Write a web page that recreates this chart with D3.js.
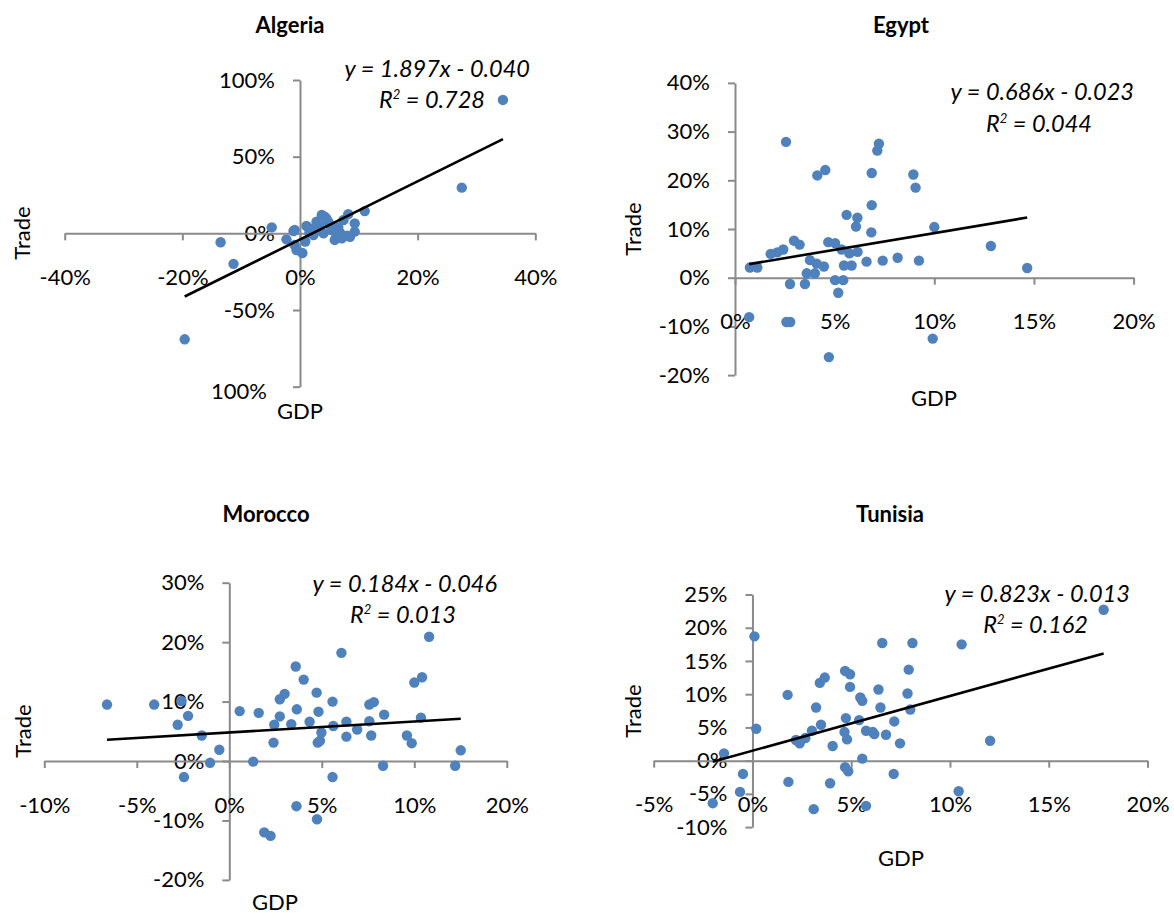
<!DOCTYPE html>
<html><head><meta charset="utf-8">
<script src="https://cdn.jsdelivr.net/npm/d3@7"></script>
<style>
body{margin:0;background:#fff;}
svg text{font-family:Lato,"Open Sans",sans-serif;}
</style></head><body>
<svg id="c" width="1174" height="916"></svg>
<script>
// ---------- DATA (values in percent) ----------
const countries = ["Algeria","Egypt","Morocco","Tunisia"];

const algeriaGDP   = [-19.6,-13.5,-11.3,-4.8,34.5,27.5,11.0,-2.3,-1.1,-0.9,-0.6,0.4,0.9,1.1,2.0,2.3,2.8,3.1,3.7,4.2,4.0,4.8,5.1,5.4,5.9,6.2,6.5,7.1,7.4,8.2,8.5,9.3,9.3,4.5,3.3,6.8,8.0,2.6,1.6,-0.9];
const algeriaTrade = [-69.1,-5.8,-19.9,3.9,87.0,29.8,14.5,-3.9,1.5,-7.6,-10.9,-12.8,-5.3,4.8,2.2,-1.1,7.6,2.2,12.0,10.9,0.0,7.6,5.4,2.2,-4.3,-1.1,3.9,-3.3,8.7,12.5,-2.2,1.1,6.5,9.5,5.0,0.5,-1.5,4.0,0.3,2.2];

const egyptGDP   = [2.56,7.22,7.14,4.13,4.53,6.86,8.95,9.06,6.86,5.60,6.14,6.07,10.0,6.84,2.96,3.24,4.68,5.02,5.35,2.42,2.12,1.79,5.74,6.15,0.75,1.12,3.76,4.10,4.46,4.01,3.60,5.47,5.85,6.60,7.41,8.16,9.23,2.76,3.51,5.02,5.43,5.18,12.84,14.66,9.92,4.71,0.71,2.58,2.77];
const egyptTrade = [27.9,27.5,26.1,21.0,22.1,21.5,21.2,18.5,14.9,12.9,12.3,10.5,10.4,9.3,7.6,6.8,7.3,7.1,5.8,5.8,5.2,4.9,5.0,5.3,2.1,2.1,3.6,2.9,2.3,0.9,0.9,2.5,2.5,3.3,3.5,4.1,3.5,-1.3,-1.3,-0.5,-0.5,-3.1,6.5,2.0,-12.5,-16.3,-8.1,-9.1,-9.1];

const moroccoGDP   = [-6.61,-4.06,-2.59,-2.23,-2.79,-1.49,-0.54,-1.04,-2.45,0.56,1.59,1.29,2.43,2.39,2.73,2.73,2.99,3.35,3.59,3.65,4.02,4.34,4.72,4.82,4.98,4.78,4.90,5.58,5.62,6.06,6.33,6.33,6.91,7.57,7.57,7.81,7.67,8.37,8.31,9.60,9.86,10.0,10.42,10.36,10.8,12.21,12.51,3.63,4.74,1.89,2.23,5.58];
const moroccoTrade = [9.5,9.5,10.1,7.6,6.1,4.3,1.9,-0.3,-2.7,8.4,8.1,-0.1,6.1,3.1,7.5,10.4,11.3,6.2,15.9,8.7,13.7,6.6,11.5,8.3,4.8,3.1,3.4,10.0,5.9,18.2,6.6,4.1,5.3,6.7,9.5,9.9,4.3,7.8,-0.8,4.3,3.0,13.2,14.1,7.3,20.9,-0.8,1.8,-7.6,-9.8,-12.0,-12.6,-2.7];

const tunisiaGDP   = [-1.44,0.10,0.19,-0.48,-0.63,-2.01,1.78,1.82,2.20,2.39,2.68,3.01,3.10,3.22,3.47,3.41,3.66,3.93,4.06,4.69,4.94,4.73,4.66,4.79,4.94,4.69,4.85,5.46,5.56,5.40,5.56,5.75,5.75,6.09,6.17,6.38,6.48,6.57,6.76,7.15,7.18,7.47,7.85,7.91,7.99,8.10,10.59,10.44,12.03,17.78];
const tunisiaTrade = [1.1,18.7,4.8,-2.0,-4.7,-6.4,9.9,-3.2,3.1,2.6,3.4,4.5,-7.3,8.0,5.4,11.7,12.5,-3.4,2.2,13.5,13.0,6.4,4.3,3.2,11.1,-1.0,-1.6,9.5,9.0,6.1,0.3,4.5,-6.8,4.3,4.0,10.7,8.0,17.7,3.9,-2.0,5.9,2.6,10.1,13.7,7.7,17.7,17.5,-4.6,3.0,22.7];

// trend lines as drawn (slope, intercept in %)
const trendSlope     = [1.897, 0.686, 0.184, 0.823];
const trendIntercept = [-4.0, 2.3, 4.8, 1.5];
const eqLabels = ["y = 1.897x - 0.040","y = 0.686x - 0.023","y = 0.184x - 0.046","y = 0.823x - 0.013"];
const r2Labels = ["0.728","0.044","0.013","0.162"];

// axis ticks
const algeriaXTicks = [-40,-20,0,20,40];
const algeriaXLabels = ["-40%","-20%","0%","20%","40%"];
const algeriaYTicks = [100,50,0,-50,-100];
const algeriaYLabels = ["100%","50%","0%","-50%","100%"];

const egyptXTicks = [0,5,10,15,20];
const egyptXLabels = ["0%","5%","10%","15%","20%"];
const egyptYTicks = [40,30,20,10,0,-10,-20];
const egyptYLabels = ["40%","30%","20%","10%","0%","-10%","-20%"];

const moroccoXTicks = [-10,-5,0,5,10,15];
const moroccoXLabels = ["-10%","-5%","0%","5%","10%","20%"];
const moroccoYTicks = [30,20,10,0,-10,-20];
const moroccoYLabels = ["30%","20%","10%","0%","-10%","-20%"];

const tunisiaXTicks = [-5,0,5,10,15,20];
const tunisiaXLabels = ["-5%","0%","5%","10%","15%","20%"];
const tunisiaYTicks = [25,20,15,10,5,0,-5,-10];
const tunisiaYLabels = ["25%","20%","15%","10%","5%","0%","-5%","-10%"];

// ---------- LAYOUT ----------
const panels = [
  {gdp:algeriaGDP, trade:algeriaTrade, xt:algeriaXTicks, xl:algeriaXLabels, yt:algeriaYTicks, yl:algeriaYLabels,
   xd:[-40,40], xr:[64.7,535.3], yd:[-100,100], yr:[386.7,80],
   title:[290,33], eq:[530,77], r2:[485,108], trade_t:[22,233], gdp_t:[300,419],
   nudge:{i:4,dx:-8,dy:5}},
  {gdp:egyptGDP, trade:egyptTrade, xt:egyptXTicks, xl:egyptXLabels, yt:egyptYTicks, yl:egyptYLabels,
   xd:[0,20], xr:[735,1133.6], yd:[-20,40], yr:[375.1,82.9],
   title:[901,33], eq:[1134,100], r2:[1092,132], trade_t:[633,229], gdp_t:[934,406]},
  {gdp:moroccoGDP, trade:moroccoTrade, xt:moroccoXTicks, xl:moroccoXLabels, yt:moroccoYTicks, yl:moroccoYLabels,
   xd:[-10,15], xr:[44.3,506.8], yd:[-20,30], yr:[879.9,582.7],
   title:[266,522], eq:[497,592], r2:[456,623], trade_t:[23,731], gdp_t:[275,910]},
  {gdp:tunisiaGDP, trade:tunisiaTrade, xt:tunisiaXTicks, xl:tunisiaXLabels, yt:tunisiaYTicks, yl:tunisiaYLabels,
   xd:[-5,20], xr:[653.7,1147.5], yd:[-10,25], yr:[827.1,594.5],
   title:[890,522], eq:[1130,602], r2:[1088,633], trade_t:[633,711], gdp_t:[901,866]}
];

const svg = d3.select("#c");
svg.append("rect").attr("width",1174).attr("height",916).attr("fill","#fff");
const AXIS = "#8a8a8a", DOT = "#4f81bd";

panels.forEach((p, k) => {
  const x = d3.scaleLinear().domain(p.xd).range(p.xr);
  const y = d3.scaleLinear().domain(p.yd).range(p.yr);
  const g = svg.append("g");

  // y axis at x=0
  const ya = g.append("g").attr("transform",`translate(${x(0)},0)`)
    .call(d3.axisLeft(y).tickValues(p.yt).tickFormat((d,i)=>p.yl[i]).tickSize(7).tickSizeOuter(0).tickPadding(18));
  // x axis at y=0
  const xa = g.append("g").attr("transform",`translate(0,${y(0)})`)
    .call(d3.axisBottom(x).tickValues(p.xt).tickFormat((d,i)=>p.xl[i]).tickSize(7).tickSizeOuter(0).tickPadding(29));
  [ya,xa].forEach(a=>{
    a.attr("font-family",null).attr("font-size",null);
    a.select(".domain").attr("stroke",AXIS).attr("stroke-width",2);
    a.selectAll(".tick line").attr("stroke",AXIS).attr("stroke-width",2);
    a.selectAll(".tick text").attr("fill","#000").style("font-size","22px");
  });
  if (p.nudge) {
    ya.selectAll(".tick text").filter((d,i)=>i===p.nudge.i)
      .attr("transform",`translate(${p.nudge.dx},${p.nudge.dy})`);
  }

  // points
  g.append("g").selectAll("circle").data(p.gdp.map((v,i)=>[v,p.trade[i]])).join("circle")
    .attr("cx",d=>x(d[0])).attr("cy",d=>y(d[1])).attr("r",5.2).attr("fill",DOT);

  // trend line across data extent
  const ext = d3.extent(p.gdp);
  const line = d3.line().x(d=>x(d)).y(d=>y(trendSlope[k]*d + trendIntercept[k]));
  g.append("path").attr("d",line(ext)).attr("stroke","#000").attr("stroke-width",2.6).attr("fill","none");

  // title
  g.append("text").attr("x",p.title[0]).attr("y",p.title[1]).attr("text-anchor","middle")
    .style("font-size","22px").style("font-weight","bold").text(countries[k]);
  // equation
  g.append("text").attr("x",p.eq[0]).attr("y",p.eq[1]).attr("text-anchor","end")
    .style("font-size","23.5px").style("font-style","italic").text(eqLabels[k]);
  const r2 = g.append("text").attr("x",p.r2[0]).attr("y",p.r2[1]).attr("text-anchor","end")
    .style("font-size","23.5px").style("font-style","italic");
  r2.append("tspan").text("R");
  r2.append("tspan").attr("dy",-9).style("font-size","13px").text("2");
  r2.append("tspan").attr("dy",9).text(" = " + r2Labels[k]);
  // axis titles
  g.append("text").attr("transform",`translate(${p.trade_t[0]},${p.trade_t[1]}) rotate(-90)`)
    .attr("text-anchor","middle").attr("dy","0.35em").style("font-size","22px").text("Trade");
  g.append("text").attr("x",p.gdp_t[0]).attr("y",p.gdp_t[1]).attr("text-anchor","middle")
    .style("font-size","22px").text("GDP");
});
</script></body></html>
